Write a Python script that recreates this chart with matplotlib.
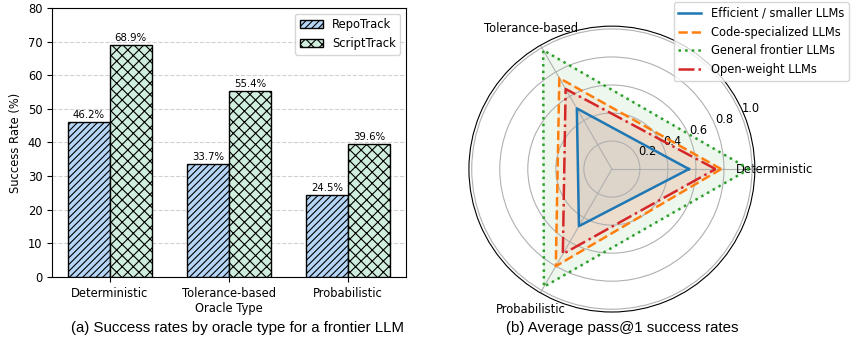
import numpy as np
import matplotlib
matplotlib.use("Agg")
import matplotlib.pyplot as plt

# ---- data ----
oracle_types = ["Deterministic", "Tolerance-based", "Probabilistic"]
repotrack = [46.2, 33.7, 24.5]
scripttrack = [68.9, 55.4, 39.6]

radar_labels = ["Deterministic", "Tolerance-based", "Probabilistic"]
radar_series = ["Efficient / smaller LLMs", "Code-specialized LLMs",
                "General frontier LLMs", "Open-weight LLMs"]
efficient = [0.55, 0.50, 0.47]
code_spec = [0.78, 0.75, 0.80]
frontier = [0.98, 0.98, 0.97]
open_weight = [0.74, 0.66, 0.70]
radar_values = [efficient, code_spec, frontier, open_weight]

FS = 8.3
plt.rcParams["font.family"] = ["DejaVu Sans"]
plt.rcParams["font.size"] = FS
plt.rcParams["hatch.linewidth"] = 0.8

fig = plt.figure(figsize=(8.51, 3.44), dpi=100)

# ---- left: bar chart ----
ax = fig.add_axes([0.0611, 0.1948, 0.416, 0.782])
x = np.arange(len(oracle_types))
w = 0.35
b1 = ax.bar(x - w / 2, repotrack, w, color="#b5d6f6", edgecolor="black",
            hatch="/////", linewidth=1.0, label="RepoTrack", zorder=3)
b2 = ax.bar(x + w / 2, scripttrack, w, color="#cfeedd", edgecolor="black",
            hatch="xxx", linewidth=1.0, label="ScriptTrack", zorder=3)
for bars in (b1, b2):
    for r in bars:
        ax.text(r.get_x() + r.get_width() / 2, r.get_height() + 0.6,
                f"{r.get_height():.1f}%", ha="center", va="bottom", fontsize=7.3)
ax.set_ylim(0, 80)
ax.set_xticks(x)
ax.set_xticklabels(oracle_types, fontsize=FS)
ax.tick_params(axis="y", labelsize=FS)
ax.set_ylabel("Success Rate (%)", fontsize=FS)
ax.set_xlabel("Oracle Type", fontsize=FS, labelpad=2)
ax.yaxis.grid(True, linestyle="--", color="#cccccc", alpha=0.9, zorder=0)
ax.set_axisbelow(True)
ax.legend(loc="upper right", fontsize=FS)

fig.text(0.2785, 0.0465, "(a) Success rates by oracle type for a frontier LLM",
         ha="center", va="center", fontsize=10.8, family="Liberation Sans")

# ---- right: radar chart ----
pax = fig.add_axes([0.551, 0.093, 0.336, 0.831], projection="polar")
n = len(radar_labels)
angles = np.linspace(0, 2 * np.pi, n, endpoint=False).tolist()
angles_c = angles + angles[:1]
colors = ["#1f77b4", "#ff7f0e", "#2ca02c", "#d62728"]
styles = ["-", "--", ":", "-."]
for name, vals, c, ls in zip(radar_series, radar_values, colors, styles):
    v = list(vals) + vals[:1]
    pax.plot(angles_c, v, color=c, linestyle=ls, linewidth=1.8, label=name)
    pax.fill(angles_c, v, color=c, alpha=0.08)
pax.set_xticks(angles)
pax.set_xticklabels(radar_labels, fontsize=FS)
pax.set_ylim(0, 1.02)
pax.set_yticks([0.2, 0.4, 0.6, 0.8, 1.0])
pax.set_yticklabels(["0.2", "0.4", "0.6", "0.8", "1.0"], fontsize=FS)
pax.grid(color="#b0b0b0", linewidth=0.8)
pax.legend(loc="upper right", bbox_to_anchor=(1.0, 1.0),
           bbox_transform=fig.transFigure, borderaxespad=0.2, fontsize=FS)

fig.text(0.7315, 0.0465, "(b) Average pass@1 success rates",
         ha="center", va="center", fontsize=10.8, family="Liberation Sans")

fig.savefig("out.png", dpi=100)
